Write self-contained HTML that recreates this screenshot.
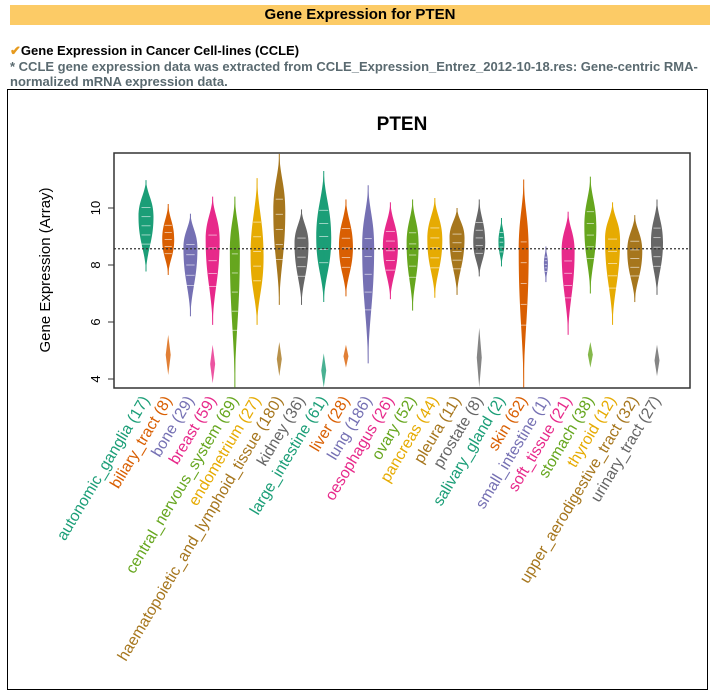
<!DOCTYPE html>
<html><head><meta charset="utf-8"><style>
body{margin:0;width:716px;height:697px;background:#fff;font-family:"Liberation Sans",Arial,sans-serif;position:relative;overflow:hidden}
#hdr{position:absolute;left:10px;top:5px;width:700px;height:20px;background:#FCCB66;font-weight:bold;font-size:15px;text-align:center;line-height:20px}
#sec{position:absolute;left:10px;top:43px;font-size:13px;font-weight:bold;color:#000}
#sec span{color:#E69A1E}
#note{position:absolute;left:10px;top:59px;font-size:13px;font-weight:bold;color:#5a6a70;line-height:15px;width:700px}
#box{position:absolute;left:7px;top:89px;width:701px;height:601px;border:1px solid #000;box-sizing:border-box}
svg{position:absolute;left:0;top:0}
</style></head><body>
<div id="hdr">Gene Expression for PTEN</div>
<div id="sec"><span>✔</span>Gene Expression in Cancer Cell-lines (CCLE)</div>
<div id="note">* CCLE gene expression data was extracted from CCLE_Expression_Entrez_2012-10-18.res: Gene-centric RMA-normalized mRNA expression data.</div>
<div id="box"></div>
<svg id="chart" width="716" height="697"></svg>
<script>
const categories=["autonomic_ganglia (17)","biliary_tract (8)","bone (29)","breast (59)","central_nervous_system (69)","endometrium (27)","haematopoietic_and_lymphoid_tissue (180)","kidney (36)","large_intestine (61)","liver (28)","lung (186)","oesophagus (26)","ovary (52)","pancreas (44)","pleura (11)","prostate (8)","salivary_gland (2)","skin (62)","small_intestine (1)","soft_tissue (21)","stomach (38)","thyroid (12)","upper_aerodigestive_tract (32)","urinary_tract (27)"];
const topVals=[10.98,10.14,9.8,10.4,10.4,11.05,11.9,9.95,11.3,10.3,10.8,10.2,10.3,10.35,10.0,10.3,9.65,11.0,8.65,9.87,11.1,10.2,9.75,10.3];
const bottomVals=[7.77,7.65,6.2,5.9,3.7,5.9,6.6,6.6,6.7,6.9,4.55,6.8,6.4,6.85,6.95,7.6,7.95,3.7,7.4,5.55,7.0,5.9,6.7,6.95];
const modeVals=[9.7,8.9,8.6,8.9,8.5,8.3,9.9,8.75,8.95,8.65,8.65,8.65,8.75,8.9,8.95,8.8,8.8,8.5,8.05,8.5,9.35,8.9,8.5,8.8];
const density=[15,12,14,14,10,13,12,14,15,14,12,15,12,15,15,12,6,10,4,13,12,15,15,12];
const outlierHigh=[null,5.55,null,5.2,null,null,5.3,null,4.9,5.2,null,null,null,null,null,5.8,null,null,null,null,5.3,null,null,5.2];
const outlierLow=[null,4.14,null,3.85,null,null,4.1,null,3.7,4.4,null,null,null,null,null,3.7,null,null,null,null,4.4,null,null,4.1];
const yTicks=[4,6,8,10];
const refLine=8.57;
const colors=["#1B9E77","#D95F02","#7570B3","#E7298A","#66A61E","#E6AB02","#A6761D","#666666"];
const NS="http://www.w3.org/2000/svg";
const svg=document.getElementById('chart');
const L=114,R=690,T=153,B=388;
const y=v=>208+(10-v)*28.5;
const x=i=>146+i*(657-146)/(categories.length-1);
function mk(t,a,p){const e=document.createElementNS(NS,t);for(const k in a)e.setAttribute(k,a[k]);(p||svg).appendChild(e);return e;}
const frame=mk('rect',{x:L,y:T,width:R-L,height:B-T,fill:'none',stroke:'#333','stroke-width':1.5});


const title=mk('text',{x:402,y:130,'text-anchor':'middle','font-size':19,'font-weight':'bold'});
title.textContent='PTEN';


const yt=mk('text',{transform:'translate(50,270) rotate(-90)','text-anchor':'middle','font-size':15});
yt.textContent='Gene Expression (Array)';


yTicks.forEach(v=>{
 const l=mk('line',{x1:L-6,x2:L,y1:y(v),y2:y(v),stroke:'#333'});
 
 
 const t=mk('text',{transform:`translate(${L-14},${y(v)}) rotate(-90)`,'text-anchor':'middle','font-size':13});
 t.textContent=v;
 
 
});
categories.forEach((c,i)=>{
 const col=colors[i%8],cx=x(i),w=density[i]/2;
 const yt0=y(topVals[i]),yb=y(bottomVals[i]),ym=y(modeVals[i]);
 const g=mk('g',{});
 
 
 const h1=ym-yt0,h2=yb-ym;
 const d=`M${cx},${yt0} C${cx+w*0.15},${yt0+h1*0.4} ${cx+w},${ym-h1*0.45} ${cx+w},${ym} C${cx+w},${ym+h2*0.45} ${cx+w*0.15},${yb-h2*0.4} ${cx},${yb} C${cx-w*0.15},${yb-h2*0.4} ${cx-w},${ym+h2*0.45} ${cx-w},${ym} C${cx-w},${ym-h1*0.45} ${cx-w*0.15},${yt0+h1*0.4} ${cx},${yt0}Z`;
 mk('path',{d:d,fill:col},g);
 mk('line',{x1:cx,x2:cx,y1:yt0,y2:yb,stroke:col,'stroke-width':1},g);
 for(let k=1;k<6;k++){const yy=yt0+(yb-yt0)*(0.2+k*0.1);mk('line',{x1:cx-w*0.6,x2:cx+w*0.6,y1:yy,y2:yy,stroke:'#fff','stroke-width':0.8,opacity:0.7},g);}
 if(outlierHigh[i]!==null){
  const o1=y(outlierHigh[i]),o2=y(outlierLow[i]);
  mk('path',{d:`M${cx},${o1} L${cx+2.5},${(o1+o2)/2} L${cx},${o2} L${cx-2.5},${(o1+o2)/2}Z`,fill:col,opacity:0.8},g);
 }
 const t=mk('text',{transform:`translate(${cx+4},${B+12}) rotate(-59)`,'text-anchor':'end','font-size':15.8,fill:col});
 t.textContent=c;
 
 
});
const rl=mk('line',{x1:L,x2:R,y1:y(refLine),y2:y(refLine),stroke:'#333','stroke-dasharray':'2,2','stroke-width':1.3});


</script>
</body></html>
